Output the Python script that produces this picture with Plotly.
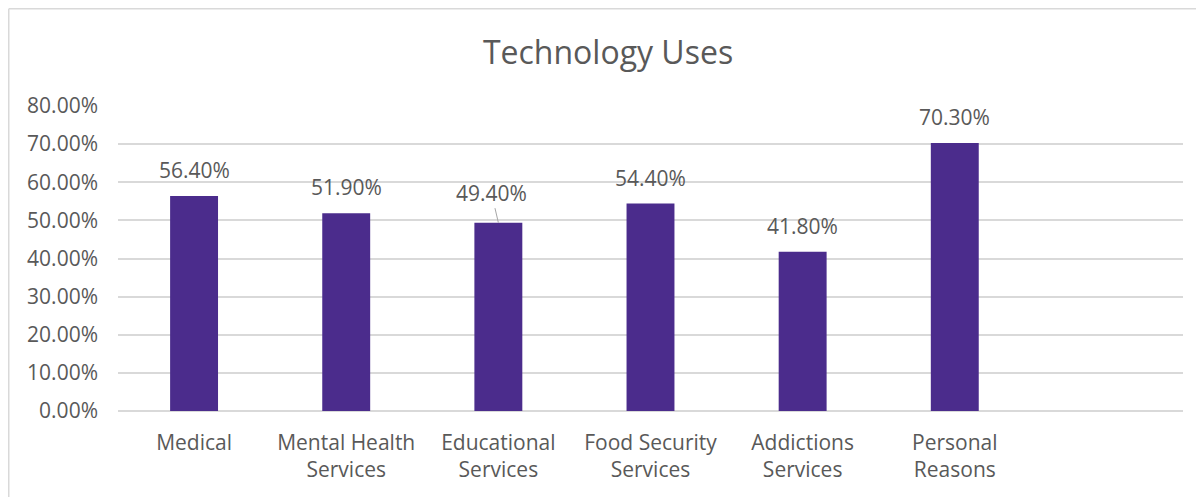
import plotly.graph_objects as go

categories = ["Medical", "Mental Health<br>Services", "Educational<br>Services",
              "Food Security<br>Services", "Addictions<br>Services", "Personal<br>Reasons"]
values = [56.4, 51.9, 49.4, 54.4, 41.8, 70.3]
labels = ["56.40%", "51.90%", "49.40%", "54.40%", "41.80%", "70.30%"]
y_ticks = [0, 10, 20, 30, 40, 50, 60, 70, 80]

FONT = "'Open Sans', sans-serif"
TXT = "#595959"
BAR = "#4B2C8C"
GRID = "#D9D9D9"
FS = 21

W, H = 1196, 489
L, R, T, B = 110, 21, 98, 86
PW, PH = W - L - R, H - T - B

x_pos = list(range(len(categories)))

fig = go.Figure()
fig.add_trace(go.Bar(x=x_pos, y=values, marker=dict(color=BAR, line=dict(width=0)),
                     width=0.315, hoverinfo="skip"))

for i, (v, t) in enumerate(zip(values, labels)):
    if i == 2:
        fig.add_annotation(x=i, y=v, text=t, showarrow=True, arrowhead=0, arrowwidth=1,
                           arrowcolor="#A6A6A6", ax=-7, ay=-30, standoff=0,
                           font=dict(family=FONT, size=FS, color=TXT))
    else:
        fig.add_annotation(x=i, y=v, text=t, showarrow=False, yanchor="bottom", yshift=10,
                           font=dict(family=FONT, size=FS, color=TXT))

# chart area frame (top and left edges visible)
px0 = (0.75 - L) / PW
py0 = 1 + (T - 0.75) / PH
fig.add_shape(type="line", xref="paper", yref="paper", x0=px0, x1=1 + R / PW, y0=py0, y1=py0,
              line=dict(color=GRID, width=1.5))
fig.add_shape(type="line", xref="paper", yref="paper", x0=px0, x1=px0, y0=py0, y1=-B / PH,
              line=dict(color=GRID, width=1.5))

fig.update_layout(
    width=W, height=H,
    margin=dict(l=L, r=R, t=T, b=B),
    paper_bgcolor="white", plot_bgcolor="white",
    showlegend=False,
    title=dict(text="Technology Uses", x=0.5017, xanchor="center", y=0.908, yanchor="middle",
               font=dict(family=FONT, size=32, color=TXT)),
    xaxis=dict(range=[-0.5, 6.5], tickmode="array", tickvals=x_pos, ticktext=categories,
               showgrid=False, zeroline=False, showline=False, ticks="",
               tickfont=dict(family=FONT, size=FS, color=TXT), ticklabelstandoff=17),
    yaxis=dict(range=[0, 80], tickmode="array", tickvals=y_ticks,
               ticktext=[f"{t:.2f}%" for t in y_ticks],
               showgrid=True, gridcolor=GRID, gridwidth=1.5, zeroline=True,
               zerolinecolor=GRID, zerolinewidth=1.5, showline=False, ticks="",
               ticklabelstandoff=19,
               tickfont=dict(family=FONT, size=FS, color=TXT)),
    font=dict(family=FONT, color=TXT),
)

fig.write_html("out.html")
